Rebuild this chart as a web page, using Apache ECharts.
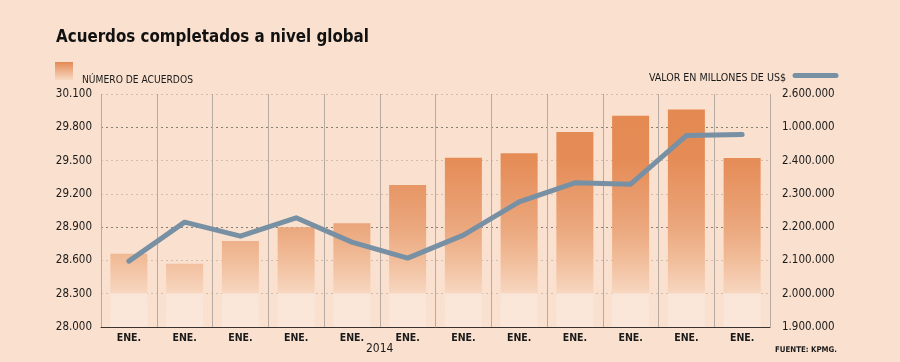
<!DOCTYPE html>
<html><head><meta charset="utf-8">
<script src="https://cdn.jsdelivr.net/npm/echarts@6/dist/echarts.min.js"></script>
<style>html,body{margin:0;padding:0;background:#fae0ce}#c{width:900px;height:362px}</style>
</head><body><div id="c"></div>
<script>
const categories = ['ENE.','ENE.','ENE.','ENE.','ENE.','ENE.','ENE.','ENE.','ENE.','ENE.','ENE.','ENE.'];
const acuerdos = [28660, 28570, 28775, 28900, 28935, 29280, 29525, 29565, 29757, 29904, 29961, 29523];
const valor = [2098000, 2215000, 2173000, 2228000, 2155000, 2107000, 2176000, 2276000, 2333000, 2329000, 2475000, 2478000];
const leftTickLabels = ['28.000','28.300','28.600','28.900','29.200','29.500','29.800','30.100'];
const rightTickLabels = ['1.900.000','2.000.000','2.100.000','2.200.000','2.300.000','2.400.000','1.000.000','2.600.000'];
const titleText = 'Acuerdos completados a nivel global';
const legendBar = 'NÚMERO DE ACUERDOS';
const legendLine = 'VALOR EN MILLONES DE US$';
const yearLabel = '2014';
const sourceText = 'FUENTE: KPMG.';

const FONT = "'DejaVu Sans Condensed','DejaVu Sans',sans-serif";
const LMIN = 28000, LMAX = 30100, LINT = 300;
const RMIN = 1900000, RMAX = 2600000, RINT = 100000;
const LINE_COLOR = '#7890a3';

const chart = echarts.init(document.getElementById('c'), null, {renderer: 'canvas'});
const gridColors = ['#c9b3a3','#d2bcad','#d2bcad','#8a7d74','#d2bcad','#d2bcad','#8a7d74','#d2bcad'];

const option = {
  animation: false,
  backgroundColor: '#fae0ce',
  textStyle: {fontFamily: FONT},
  title: {
    text: titleText, left: 51, top: 24,
    textStyle: {fontFamily: FONT, fontSize: 16.8, fontWeight: 'bold', color: '#111'}
  },
  grid: {left: 101, right: 130, top: 94, bottom: 35, containLabel: false},
  xAxis: {
    type: 'category', data: categories, boundaryGap: true,
    axisLine: {show: true, lineStyle: {color: '#3a3330', width: 1}},
    axisTick: {show: false},
    axisLabel: {fontFamily: FONT, fontSize: 10.5, fontWeight: 'bold', color: '#1a1a1a', margin: 6},
    splitLine: {show: true, lineStyle: {color: '#b7aaa1', width: 1}}
  },
  yAxis: [
    {
      type: 'value', min: LMIN, max: LMAX, interval: LINT, position: 'left',
      axisLine: {show: false}, axisTick: {show: false},
      axisLabel: {fontFamily: FONT, fontSize: 11.5, color: '#1a1a1a', margin: 9,
        formatter: v => leftTickLabels[Math.round((v - LMIN) / LINT)]},
      splitLine: {show: true, lineStyle: {color: gridColors, type: [2, 3], width: 1}}
    },
    {
      type: 'value', min: RMIN, max: RMAX, interval: RINT, position: 'right',
      axisLine: {show: false}, axisTick: {show: false},
      axisLabel: {fontFamily: FONT, fontSize: 11.5, color: '#1a1a1a', margin: 12,
        formatter: v => rightTickLabels[Math.round((v - RMIN) / RINT)]},
      splitLine: {show: false}
    }
  ],
  series: [
    {
      type: 'bar', name: legendBar, yAxisIndex: 0, data: acuerdos, barWidth: 37, z: 3,
      itemStyle: {color: '#e8995f'}
    },
    {
      type: 'line', name: legendLine, yAxisIndex: 1, data: valor, symbol: 'none', z: 5,
      lineStyle: {color: LINE_COLOR, width: 5, cap: 'round', join: 'round'}
    }
  ],
  graphic: [
    {type: 'rect', left: 55, top: 62, shape: {width: 18, height: 18},
      style: {fill: new echarts.graphic.LinearGradient(0, 0, 0, 1, [
        {offset: 0, color: '#e48a54'}, {offset: 1, color: '#f8d9c3'}])}},
    {type: 'text', left: 82, top: 75, style: {text: legendBar, font: "10.2px " + FONT, fill: '#1a1a1a'}},
    {type: 'text', right: 900 - 786, top: 73, style: {text: legendLine, font: "10.6px " + FONT, fill: '#1a1a1a', textAlign: 'right'}},
    {type: 'line', shape: {x1: 795, y1: 75.5, x2: 836, y2: 75.5},
      style: {stroke: LINE_COLOR, lineWidth: 5, lineCap: 'round'}},
    {type: 'text', left: 366, top: 343, style: {text: yearLabel, font: "12px " + FONT, fill: '#1a1a1a'}},
    {type: 'text', left: 775, top: 346, style: {text: sourceText, font: "bold 7.8px " + FONT, fill: '#1a1a1a'}}
  ]
};
chart.setOption(option);

const yTop = chart.convertToPixel({yAxisIndex: 0}, LMAX);
const yBot = chart.convertToPixel({yAxisIndex: 0}, LMIN);
const yStep = chart.convertToPixel({yAxisIndex: 0}, LMIN + LINT);
const span = yBot - yTop;
const f = y => (y - yTop) / span;
const stepF = f(yStep);
const grad = new echarts.graphic.LinearGradient(0, yTop, 0, yBot, [
  {offset: 0, color: '#e3884f'},
  {offset: f(yTop + 66), color: '#e58c57'},
  {offset: f(yTop + 133), color: '#eba77d'},
  {offset: f(yTop + 166), color: '#f1bd9a'},
  {offset: stepF - 0.003, color: '#f7d6bf'},
  {offset: stepF, color: '#fae6d8'},
  {offset: 1, color: '#fae7da'}
], true);
chart.setOption({series: [{itemStyle: {color: grad}}, {}]});
</script>
</body></html>
